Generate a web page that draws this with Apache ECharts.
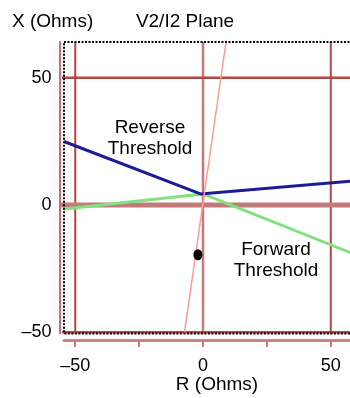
<!DOCTYPE html>
<html>
<head>
<meta charset="utf-8">
<script src="https://cdn.jsdelivr.net/npm/echarts@6/dist/echarts.min.js"></script>
<style>
html,body{margin:0;padding:0;background:#fff;}
#chart{width:350px;height:398px;}
</style>
</head>
<body>
<div id="chart"></div>
<script>
// ---- data ----
const xTickValues = [-50, -25, 0, 25, 50];
const xLabelValues = [-50, 0, 50];
const yLabelValues = [50, 0, -50];
const gridR = [-50, 0, 50];          // vertical grid lines (R)
const gridX = [50, -50];             // horizontal grid lines (X)
const zeroX = [0];                   // thick zero line
const reverseR = [-54.4, -1, 63];
const reverseX = [24.9, 4.3, 9.7];
const forwardR = [-54.4, 0, 63];
const forwardX = [-1.6, 4.3, -20.9];
const boundaryR = [-7.3, 9.0];
const boundaryX = [-50.5, 64];
const pointR = [-2];
const pointX = [-19.6];

const R_MIN = -54.4, R_MAX = 63, X_MIN = -50.5, X_MAX = 64;
const FONT = '"Liberation Sans", Arial, sans-serif';

function pairs(a, b) { return a.map((v, i) => [v, b[i]]); }
function fmt(v) { return String(v).replace('-', '\u2013'); }

const series = [];
// vertical grid lines
gridR.forEach(r => {
  series.push({
    type: 'line', silent: true, symbol: 'none', z: 1,
    data: [[r, X_MIN], [r, X_MAX]],
    lineStyle: { color: r === 0 ? '#c47a7a' : '#b54545', width: r === 0 ? 2.5 : 2 }
  });
});
// horizontal grid lines
gridX.forEach(x => {
  series.push({
    type: 'line', silent: true, symbol: 'none', clip: false, z: 1,
    data: [[-57.8, x], [R_MAX, x]],
    lineStyle: { color: '#b54545', width: 2.5 }
  });
});
zeroX.forEach(x => {
  series.push({
    type: 'line', silent: true, symbol: 'none', clip: false, z: 1,
    data: [[-58.3, x], [R_MAX, x]],
    lineStyle: { color: '#c27a7a', width: 5 }
  });
});
series.push({
  name: 'Forward Threshold', type: 'line', symbol: 'none', z: 3,
  data: pairs(forwardR, forwardX),
  lineStyle: { color: '#80e27e', width: 3 }
});
series.push({
  name: 'Reverse Threshold', type: 'line', symbol: 'none', z: 4,
  data: pairs(reverseR, reverseX),
  lineStyle: { color: '#1c1c96', width: 3 }
});
series.push({
  type: 'line', symbol: 'none', z: 5,
  data: pairs(boundaryR, boundaryX),
  lineStyle: { color: '#ff9a9a', width: 1.5 }
});
series.push({
  type: 'scatter', z: 6, symbol: 'circle', symbolSize: [9, 11],
  data: pairs(pointR, pointX),
  itemStyle: { color: '#000', opacity: 1 }
});

const chart = echarts.init(document.getElementById('chart'), null, { renderer: 'canvas' });
chart.setOption({
  animation: false,
  backgroundColor: '#fff',
  grid: {
    left: 64, top: 42, width: 300, height: 291.4,
    containLabel: false, outerBoundsMode: 'none',
    show: true, z: 10,
    backgroundColor: 'transparent',
    borderColor: '#000', borderWidth: 2, borderType: [2, 1.5]
  },
  xAxis: {
    type: 'value', min: R_MIN, max: R_MAX, offset: 6.5,
    axisLine: { onZero: false, lineStyle: { color: '#cc8484', width: 3 } },
    axisTick: { show: true, customValues: xTickValues, length: 7, lineStyle: { color: '#c47a7a', width: 2 } },
    axisLabel: { customValues: xLabelValues, formatter: fmt, margin: 17, color: '#000', fontSize: 18, fontFamily: FONT },
    splitLine: { show: false }
  },
  yAxis: {
    type: 'value', min: X_MIN, max: X_MAX, offset: 4.5,
    axisLine: { onZero: false, lineStyle: { color: '#c87070', width: 2 } },
    axisTick: { show: false },
    axisLabel: { customValues: yLabelValues, formatter: fmt, margin: 8, color: '#000', fontSize: 18, fontFamily: FONT },
    splitLine: { show: false }
  },
  graphic: [
    { type: 'text', x: 12, y: 22, style: { text: 'X (Ohms)', font: '19px ' + FONT, fill: '#000', align: 'left', verticalAlign: 'middle' } },
    { type: 'text', x: 185, y: 22, style: { text: 'V2/I2 Plane', font: '19px ' + FONT, fill: '#000', align: 'center', verticalAlign: 'middle' } },
    { type: 'text', x: 150, y: 138.5, style: { text: 'Reverse\nThreshold', font: '19px ' + FONT, lineHeight: 21, fill: '#000', align: 'center', verticalAlign: 'middle' } },
    { type: 'text', x: 276, y: 260.5, style: { text: 'Forward\nThreshold', font: '19px ' + FONT, lineHeight: 21, fill: '#000', align: 'center', verticalAlign: 'middle' } },
    { type: 'text', x: 217, y: 385, style: { text: 'R (Ohms)', font: '19px ' + FONT, fill: '#000', align: 'center', verticalAlign: 'middle' } }
  ],
  series: series
});
</script>
</body>
</html>
